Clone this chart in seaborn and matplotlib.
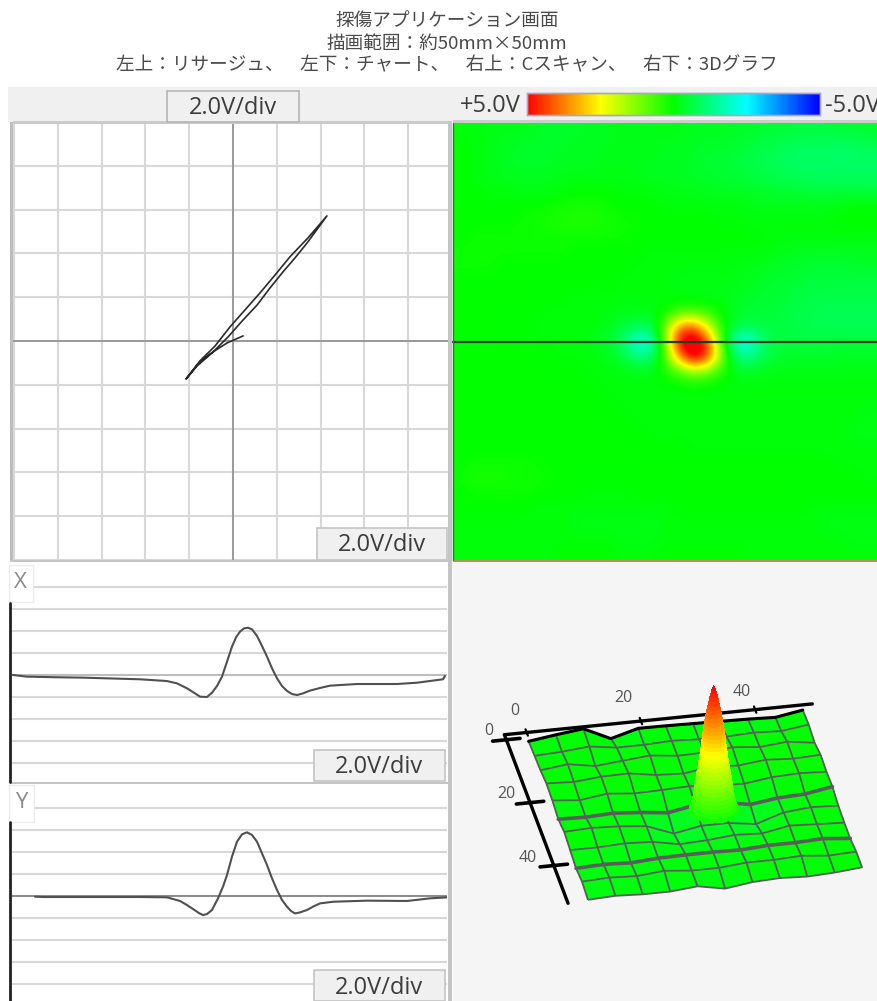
import numpy as np
import seaborn as sns
import matplotlib.pyplot as plt
from matplotlib.patches import Rectangle

W, H = 878, 1001

title_lines = ['探傷アプリケーション画面', '描画範囲：約50mm×50mm',
               '左上：リサージュ、    左下：チャート、    右上：Cスキャン、    右下：3Dグラフ']
div_label = '2.0V/div'
scale_labels = ['+5.0V', '-5.0V']
scale_colors = ['#0000ff', '#00ffff', '#00ff00', '#ffff00', '#ff0000']

# Lissajous, volts
liss_x = [.46, -.27, -1.05, -1.6, -2.15, -1.51, -.82, -.14, .55, 1.23, 1.92, 2.6, 3.42, 4.29,
          3.38, 2.83, 2.28, 1.69, 1.1, .46, -.23, -.96, -1.64, -2.1]
liss_y = [.23, -.09, -.59, -1.05, -1.74, -.91, -.23, .64, 1.42, 2.19, 3.01, 3.84, 4.7, 5.71,
          4.47, 3.79, 3.15, 2.42, 1.64, .96, .18, -.55, -1.14, -1.69]

# Chart traces, sample number against volts
x_pos = [3, 17, 50, 73, 130, 157, 167, 177, 185, 190, 197, 202, 207, 212, 217, 222, 226, 230,
         234, 238, 242, 247, 252, 257, 262, 267, 272, 277, 282, 287, 293, 300, 310, 320, 347,
         387, 407, 433, 435]
x_volts = [0, -.15, -.21, -.24, -.39, -.55, -.76, -1.21, -1.67, -1.97, -2, -1.61, -1.0, -.15,
           1.21, 2.58, 3.42, 3.94, 4.24, 4.3, 4.15, 3.55, 2.64, 1.67, .61, -.3, -1.0, -1.45,
           -1.73, -1.82, -1.67, -1.42, -1.18, -.97, -.82, -.82, -.7, -.39, -.09]
y_pos = [25, 33, 130, 157, 163, 170, 177, 183, 189, 193, 197, 202, 208, 213, 217, 222, 227,
         232, 237, 242, 247, 252, 257, 262, 267, 272, 277, 281, 285, 290, 297, 303, 310, 323,
         357, 397, 420, 437]
y_volts = [-.09, -.12, -.12, -.15, -.3, -.48, -.85, -1.21, -1.58, -1.76, -1.67, -1.3, -.24, .82,
           1.88, 3.55, 4.91, 5.58, 5.76, 5.52, 4.91, 3.85, 2.79, 1.58, .52, -.39, -1.0, -1.39,
           -1.61, -1.52, -1.3, -1.0, -.7, -.55, -.45, -.48, -.24, -.15]

# C scan in tenths of a volt, 29 x 29
scan_tenths = [
    [-1,-1,-2,-2,-2,-3,-4,-4,-4,-3,-3,-2,-2,-2,-2,-2,-3,-3,-3,-4,-4,-5,-5,-6,-6,-6,-5,-5,-4],
    [0,-1,-2,-3,-4,-4,-4,-4,-3,-3,-3,-2,-2,-2,-3,-3,-3,-4,-4,-5,-6,-7,-8,-9,-9,-9,-10,-9,-8],
    [0,-1,-2,-3,-4,-4,-4,-3,-3,-3,-2,-2,-2,-3,-3,-3,-4,-5,-5,-6,-7,-8,-9,-10,-10,-10,-10,-10,-10],
    [0,-1,-2,-3,-3,-3,-3,-2,-2,-2,-2,-2,-2,-3,-3,-3,-4,-4,-5,-5,-6,-7,-8,-8,-9,-9,-9,-9,-9],
    [0,0,-1,-1,-2,-2,-2,-1,0,0,0,-1,-1,-1,-2,-2,-2,-3,-3,-3,-4,-4,-5,-5,-6,-6,-6,-6,-6],
    [0,0,0,0,0,1,1,2,2,2,1,0,0,0,-1,-1,-1,-1,-1,-1,-2,-2,-2,-2,-2,-2,-1,0,0],
    [0,0,0,0,1,1,2,3,3,3,2,1,1,0,0,0,0,0,-1,-1,-1,-1,-1,-1,-1,-1,0,0,0],
    [0,1,1,1,1,1,1,1,1,1,1,1,0,0,0,0,0,0,0,0,0,-1,-1,-1,-1,-1,-1,-1,-1],
    [1,1,1,1,1,1,1,1,0,0,0,0,0,-1,-1,-1,-1,-1,-1,-1,-1,-1,-2,-3,-3,-3,-3,-3,-3],
    [1,1,1,0,0,0,0,0,0,0,0,0,-1,-1,-1,-1,-1,-1,-1,-2,-2,-3,-4,-4,-5,-5,-5,-4,-4],
    [0,0,0,0,0,0,0,0,0,0,0,-1,-1,-1,-1,-2,-2,-2,-2,-2,-3,-4,-5,-5,-6,-6,-6,-6,-6],
    [0,0,0,0,0,0,0,0,-1,-1,-1,-1,-1,-1,-1,-1,-2,-2,-2,-3,-4,-5,-5,-6,-7,-7,-7,-7,-7],
    [0,0,0,0,0,0,-1,-1,-1,-1,-1,-2,-2,-2,0,5,6,4,-1,-4,-5,-5,-6,-7,-7,-8,-8,-8,-8],
    [0,0,0,0,0,-1,-1,-1,-1,-1,-2,-5,-8,-8,12,38,40,20,0,-6,-7,-6,-6,-7,-8,-8,-8,-8,-8],
    [0,0,0,0,0,0,-1,-1,-1,-2,-4,-10,-22,-24,12,54,60,40,1,-26,-20,-8,-6,-6,-6,-6,-6,-6,-6],
    [0,0,0,0,0,0,0,-1,-1,-1,-2,-5,-12,-12,8,38,58,42,8,-14,-12,-6,-4,-4,-4,-4,-3,-3,-3],
    [0,0,0,0,0,0,0,0,0,-1,-1,-1,-2,-2,2,8,14,10,2,-3,-3,-2,-2,-2,-2,-2,-2,-2,-2],
    [0,0,0,0,0,0,0,0,0,0,-1,-1,-1,-1,-1,-1,0,-1,-1,-1,-1,-1,-1,-1,-1,-1,-1,-1,-1],
    [0,0,0,0,0,0,0,0,0,0,0,-1,-1,-1,-1,-1,-1,-1,-1,-1,-1,-1,-1,-1,-1,-1,-1,-1,-1],
    [0,0,0,0,0,0,0,0,0,0,0,0,-1,-1,-1,-1,-1,-1,-1,-1,-1,-1,-1,-1,-1,-1,-1,-1,-2],
    [0,0,0,0,0,0,0,0,0,0,0,0,0,-1,-1,-1,-1,-1,-1,-1,-1,-1,-1,-1,-1,-1,-1,-2,-2],
    [0,0,0,0,0,0,0,0,0,0,0,0,0,0,0,0,-1,-1,-1,-1,-1,-1,-1,-1,-1,-1,-1,-1,-1],
    [0,1,1,1,1,1,0,0,0,0,0,0,0,0,0,0,0,0,0,0,0,0,0,0,0,0,-1,-1,-1],
    [1,2,2,2,1,1,1,0,0,0,0,0,0,0,0,0,0,0,0,0,0,0,0,0,0,0,0,0,-1],
    [0,1,1,1,1,1,0,0,0,-1,-1,-1,0,0,0,0,0,0,0,0,0,0,0,0,0,0,0,0,0],
    [0,0,0,0,0,-1,-1,-1,-1,-1,-1,-1,-1,-1,-1,0,0,0,0,0,0,0,0,0,-1,-1,-1,-1,-1],
    [-1,-1,-1,-1,-1,-1,-1,-1,-2,-2,-2,-2,-2,-2,-1,-1,-1,-1,-1,-1,-1,-1,-1,-1,-1,-2,-2,-2,-2],
    [-1,-1,-1,-1,-1,-1,-1,-1,-1,-1,-1,-2,-2,-2,-1,-1,-1,-1,-1,-1,-1,-1,-1,-1,-1,-1,-1,-2,-2],
    [-1,-1,-1,-1,-1,-1,-1,0,0,0,0,-1,-1,-1,0,0,0,0,0,0,-1,-1,-1,-1,-1,-1,-1,-1,-1],
]

# 3D surface: mm along each side, volts at the mesh points
surf_x = [0, 4.8, 9.6, 14.4, 19.2, 24, 28.8, 33.6, 38.4, 43.2, 48]
surf_y = [0, 5, 10, 15, 20, 25, 30, 35, 40, 45, 50]
surf_z = [
    [-.15, 0, .13, -.37, -.07, -.08, -.1, -.12, -.14, -.18, 0],
    [-.1, -.05, .05, -.1, -.1, -.05, -.1, -.1, -.05, -.1, .05],
    [-.05, .08, -.1, 0, .1, -.02, 0, .1, 0, .1, -.05],
    [.05, 0, .1, .12, -.05, -.1, .05, 0, .12, .05, .1],
    [0, -.1, .05, -.05, -.02, .02, -.05, -.1, .05, .1, .05],
    [-.12, -.15, -.1, -.18, -.3, -.1, -.1, -.3, -.15, -.1, .08],
    [0, .05, 0, -.1, -.5, -.3, -.3, -.45, -.1, 0, -.05],
    [-.1, -.1, -.05, -.1, -.3, -.25, -.15, -.2, 0, -.05, -.1],
    [-.2, -.15, -.2, -.12, -.1, -.1, -.12, -.05, -.05, 0, -.1],
    [-.1, -.05, -.1, 0, -.1, -.1, 0, 0, .05, -.05, 0],
    [-.2, -.15, -.2, -.2, -.1, -.3, -.15, -.1, -.15, -.1, 0],
]
heavy_rows = [5, 8]

# the peak on the 3D surface: radius in mm against volts
peak_x, peak_y = 26.5, 28.5
peak_volts = [5, 4.9, 4.75, 4.6, 4.45, 4.3, 4.15, 4, 3.85, 3.7, 3.55, 3.4, 3.25, 3.1, 2.95, 2.8,
              2.65, 2.5, 2.35, 2.2, 2.05, 1.9, 1.75, 1.6, 1.45, 1.3, 1.15, 1, .85, .7, .55, .4,
              .25, .1]
peak_radius = [0, .2, .4, .6, .75, .9, 1.05, 1.2, 1.32, 1.45, 1.58, 1.7, 1.8, 1.9, 1.98, 2.05,
               2.12, 2.2, 2.3, 2.4, 2.5, 2.6, 2.72, 2.85, 2.97, 3.08, 3.18, 3.28, 3.38, 3.48,
               3.6, 3.75, 3.95, 4.25]

axis_ticks = [0, 20, 40]

sns.set_theme(style='whitegrid')
plt.rcParams['font.family'] = ['Noto Sans CJK JP', 'DejaVu Sans']
scan_cmap = sns.blend_palette(scale_colors, as_cmap=True)
grid_col = '#d8d8d8'
ui_font = ['Open Sans', 'DejaVu Sans']

fig = plt.figure(figsize=(W / 100, H / 100), dpi=100, facecolor='white')


def px_axes(x0, y0, x1, y1, **kw):
    return fig.add_axes([x0 / W, 1 - y1 / H, (x1 - x0) / W, (y1 - y0) / H], **kw)


def layer(z):
    a = fig.add_axes([0, 0, 1, 1], zorder=z, facecolor='none')
    a.set_xlim(0, W)
    a.set_ylim(H, 0)
    a.axis('off')
    return a


bg = layer(0)
ui = layer(5)


def box(a, x0, y0, x1, y1, fc, ec='none', lw=0):
    a.add_patch(Rectangle((x0, y0), x1 - x0, y1 - y0, facecolor=fc, edgecolor=ec, linewidth=lw))


def ui_label(x, y, s, size=17, col='#3c3c3c', ha='center'):
    ui.text(x, y, s, fontsize=size, color=col, ha=ha, va='center', family=ui_font)


box(bg, 8, 87, W, 122, '#f0f0f0')
box(bg, 453, 562, W, H, '#f5f5f5')

# title
for yy, line in zip([22, 44, 65], title_lines):
    bg.text(447, yy, line, fontsize=13.4, color='#4a4a4a', ha='center', va='center')

# lissajous
ax = px_axes(13, 123, 448, 560, zorder=1)
sns.lineplot(x=liss_x, y=liss_y, sort=False, estimator=None, color='#2a2a2a', lw=1.2, ax=ax)
ax.set_xticks(np.arange(-10, 11, 2))
ax.set_yticks(np.arange(-10, 11, 2))
ax.set_xlim(-10.05, 9.82)
ax.set_ylim(-10, 9.95)
ax.set(xticklabels=[], yticklabels=[], xlabel='', ylabel='')
ax.tick_params(length=0)
ax.grid(True, color=grid_col, lw=1.5)
ax.axhline(0, color='#9a9a9a', lw=1.4, zorder=1)
ax.axvline(0, color='#9a9a9a', lw=1.4, zorder=1)
for s in ax.spines.values():
    s.set_visible(False)

# x and y charts
for pos, volts, (top, bottom, zero), zero_col in [(x_pos, x_volts, (562, 782, 675), '#b8b8b8'),
                                                  (y_pos, y_volts, (784, 1001, 895.7), '#808080')]:
    ch = px_axes(10, top, 447, bottom, zorder=1)
    sns.lineplot(x=pos, y=volts, sort=False, estimator=None, color='#505050', lw=1.5, ax=ch)
    ch.set_yticks(np.arange(-8, 9, 2))
    ch.set_xticks([])
    ch.set_xlim(0, 437)
    ch.set_ylim((zero - bottom) / 11, (zero - top) / 11)
    ch.set(yticklabels=[], xlabel='', ylabel='')
    ch.tick_params(length=0)
    ch.grid(True, axis='y', color=grid_col, lw=1.5)
    ch.axhline(0, color=zero_col, lw=1.2, zorder=1)
    for s in ch.spines.values():
        s.set_visible(False)

# c scan, seaborn builds the axes and colour scale, the smooth image goes above the mesh
scan = np.array(scan_tenths) / 10
cs = px_axes(453, 123, W, 560, zorder=1)
cax = px_axes(527, 93, 820, 115, zorder=2)
sns.heatmap(scan, cmap=scan_cmap, vmin=-5, vmax=5, ax=cs, cbar_ax=cax,
            cbar_kws={'orientation': 'horizontal'}, xticklabels=False, yticklabels=False)
cs.collections[0].set_zorder(0)
cs.imshow(scan, cmap=scan_cmap, vmin=-5, vmax=5, interpolation='bicubic',
          extent=(0, 29, 29, 0), aspect='auto', zorder=1)
cs.set_xlim(0, 29)
cs.set_ylim(29, 0)
cax.invert_xaxis()
cax.tick_params(length=0, labelbottom=False)
cax.set_xticks([])
for s in cax.spines.values():
    s.set_visible(True)
    s.set_color('#a8a8c0')
    s.set_linewidth(1)

# 3d graph
a3 = px_axes(484, 528, W + 31, H - 34, projection='3d', zorder=2)
a3.patch.set_alpha(0)
a3.set_proj_type('ortho')
a3.view_init(elev=31, azim=-101)
a3.computed_zorder = False
a3.set_xlim(-5, 55)
a3.set_ylim(55, -3)
a3.set_zlim(-1, 6)
a3.set_box_aspect((60, 62, 35.5), zoom=1.24)
a3.axis('off')

sx, sy = np.meshgrid(surf_x, surf_y)
sz = np.array(surf_z)
a3.plot_surface(sx, sy, sz, cmap=scan_cmap, vmin=-5, vmax=5, shade=False, linewidth=0,
                antialiased=False, zorder=1)
a3.plot_wireframe(sx, sy, sz, color='#5c5c5c', lw=1.3, zorder=2)
for r in heavy_rows:
    a3.plot(sx[r], sy[r], sz[r], color='#5c5c5c', lw=2.6, zorder=2)
a3.plot(sx[0], sy[0], sz[0], color='black', lw=2.2, zorder=3)

# axis lines with short ticks
a3.plot([-3.9, 50], [-1.6, -1.6], [0, 0], color='black', lw=2.4, zorder=3)
a3.plot([-3.9, -3.9], [-1.6, 52], [0, 0], color='black', lw=2.4, zorder=3)
for t in axis_ticks:
    a3.plot([t, t], [-2.6, -0.6], [0, 0], color='black', lw=1.6, zorder=3)
    a3.plot([-6.3, -1.5], [t, t], [0, 0], color='black', lw=2.6, zorder=3)

# peak drawn last so it sits over the mesh and the edge line
theta = np.radians(np.arange(0, 361, 15))
pr, pt = np.meshgrid(peak_radius, theta)
pz = np.tile(peak_volts, (len(theta), 1))
a3.plot_surface(peak_x + pr * np.cos(pt), peak_y + pr * np.sin(pt), pz, cmap=scan_cmap,
                vmin=-5, vmax=5, shade=False, linewidth=0, antialiased=False, zorder=4,
                rcount=100, ccount=100)

# widgets
box(ui, 10, 122, 13, 560, '#bdbdbd')
box(ui, 13, 121, 452, 123.5, '#cacaca')
box(ui, 453, 120, W, 123, '#cccccc')
box(ui, 448.5, 122, 452.5, H, '#c4c4c4')
box(ui, 10, 559.5, 449, 562, '#c4c4c4')
box(ui, 10, 781.5, 449, 784, '#c4c4c4')
box(ui, 453, 559.5, W, 561.5, '#b89060')
ui.plot([453, W], [342, 342], color='#1c3a1c', lw=1.6)
ui.plot([453.5, 453.5], [123, 560], color='#2c7a2c', lw=1)
ui.plot([10, 10], [603, 782], color='#222222', lw=2)
ui.plot([10, 10], [822, 1001], color='#222222', lw=2)

box(ui, 167, 91, 299, 122, '#f0f0f0', '#b4b4b4', 1.2)
ui_label(233, 108, div_label)
box(ui, 317, 528, 447, 560, '#f0f0f0', '#c4c4c4', 1.2)
ui_label(382, 545, div_label)
box(ui, 314, 750, 445, 781, '#f0f0f0', '#c4c4c4', 1.2)
ui_label(379, 767, div_label)
box(ui, 314, 970, 445, 1001, '#f0f0f0', '#c4c4c4', 1.2)
ui_label(379, 988, div_label)
ui_label(490, 106, scale_labels[0])
ui_label(825, 106, scale_labels[1], ha='left')

box(ui, 9, 565, 33, 602, 'white', '#ececec', 1)
ui_label(20, 583, 'X', size=16, col='#8a8a8a')
box(ui, 9, 785, 34, 822, 'white', '#ececec', 1)
ui_label(21, 803, 'Y', size=16, col='#8a8a8a')

# 3d axis numbers
for xx, yy, s in [(515, 711, '0'), (623, 698, '20'), (742, 692, '40'),
                  (489, 731, '0'), (506, 794, '20'), (528, 858, '40')]:
    ui_label(xx, yy, s, size=11.5, col='#555555')

fig.savefig('out.png', dpi=100)
